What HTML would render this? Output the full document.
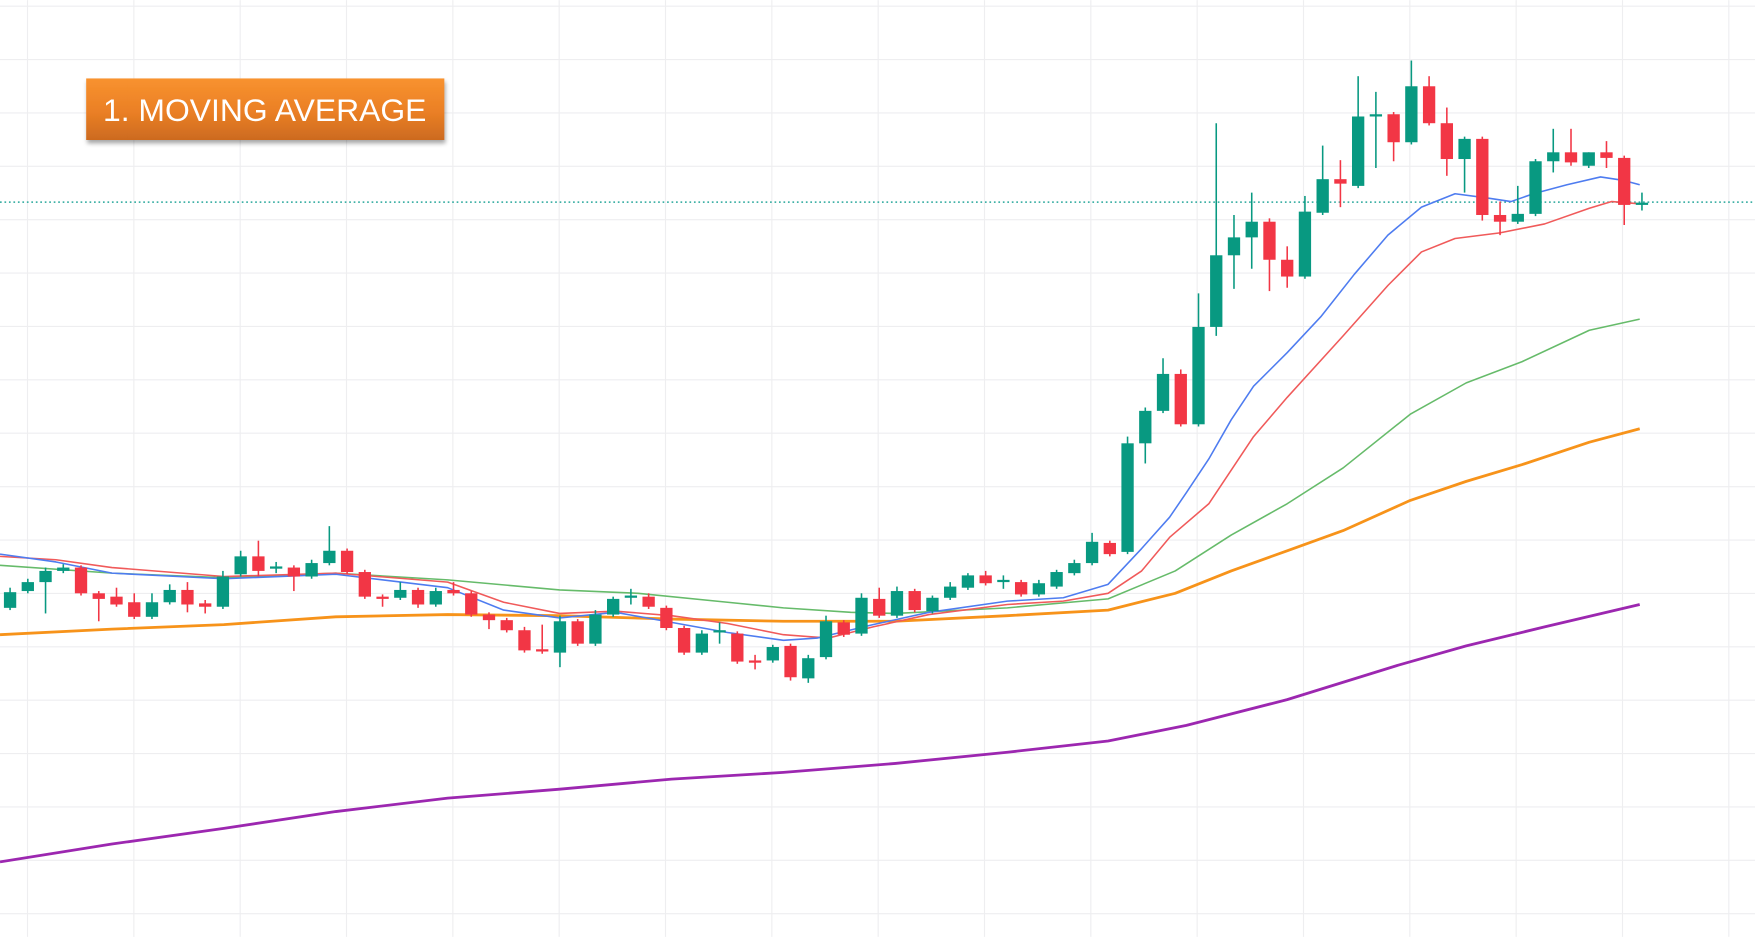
<!DOCTYPE html>
<html><head><meta charset="utf-8">
<style>
html,body{margin:0;padding:0;background:#fff;width:1755px;height:937px;overflow:hidden}
svg{display:block}
</style></head>
<body>
<svg id="c" width="1755" height="937" viewBox="0 0 1568 837" xmlns="http://www.w3.org/2000/svg">
<defs>
<linearGradient id="og" x1="0" y1="0" x2="0" y2="1">
<stop offset="0" stop-color="#f8922f"/><stop offset="0.55" stop-color="#ea7f25"/><stop offset="1" stop-color="#cc6a1f"/>
</linearGradient>
<filter id="sh" x="-10%" y="-20%" width="120%" height="150%"><feDropShadow dx="1" dy="3" stdDeviation="2" flood-color="#000" flood-opacity="0.35"/></filter>
</defs>
<g id="grid" stroke="#eeeef0" stroke-width="1"></g>
<line x1="0" y1="180.5" x2="1568" y2="180.5" stroke="#26a69a" stroke-width="1.3" stroke-dasharray="1.5 2.5"/>
<g id="ma" fill="none" stroke-linejoin="round"></g>
<g id="cd"></g>
<rect x="77" y="70" width="320" height="55" fill="url(#og)" filter="url(#sh)"/>
<text x="92" y="108" textLength="289" lengthAdjust="spacingAndGlyphs" font-family="Liberation Sans, sans-serif" font-size="28" fill="#fff">1. MOVING AVERAGE</text>
</svg>
<script>
var NS="http://www.w3.org/2000/svg";
function el(p,t,a){var e=document.createElementNS(NS,t);for(var k in a)e.setAttribute(k,a[k]);p.appendChild(e);return e;}
var g=document.getElementById('grid');
for(var x=24.6;x<1568;x+=95)el(g,'line',{x1:x,y1:0,x2:x,y2:837});
for(var y=5.4;y<837;y+=47.7)el(g,'line',{x1:0,y1:y,x2:1568,y2:y});
var ma=document.getElementById('ma');
function line(pts,c,w){el(ma,'polyline',{points:pts.map(function(p){return p.join(',')}).join(' '),stroke:c,'stroke-width':w});}
line([[0,567],[100,562],[200,558],[300,551],[400,549],[500,550],[600,553],[700,555],[800,555],[900,550],[990,545],[1050,530],[1100,510],[1150,492],[1200,474],[1260,447],[1310,430],[1360,415],[1420,395],[1465,383]],'#f7931a',2.5);
line([[0,770],[100,754],[200,740],[300,725],[400,713],[500,705],[600,696],[700,690],[800,682],[900,672],[990,662],[1060,648],[1150,625],[1250,594],[1310,577],[1380,560],[1465,540]],'#9c27b0',2.5);
line([[0,505],[100,512],[200,516],[300,512],[400,518],[500,527],[570,530],[650,538],[700,543],[760,547],[800,548],[900,543],[990,535],[1050,510],[1100,478],[1150,450],[1200,418],[1260,370],[1310,342],[1360,323],[1420,295],[1465,285]],'#66bb6a',1.4);
line([[0,497],[50,500],[100,507],[200,515],[300,512],[400,520],[450,538],[500,548],[550,546],[600,550],[650,557],[700,567],[740,570],[780,560],[830,549],[900,540],[950,537],[990,530],[1020,510],[1045,480],[1080,450],[1120,390],[1150,355],[1200,300],[1240,255],[1270,225],[1300,213],[1340,208],[1380,200],[1420,186],[1440,180],[1465,182]],'#f05a5a',1.4);
line([[0,495],[50,502],[100,512],[200,517],[300,513],[400,525],[450,545],[500,552],[550,547],[600,556],[650,565],[700,572],[730,570],[780,558],[830,547],[900,537],[950,534],[990,522],[1020,490],[1045,462],[1060,440],[1080,410],[1100,375],[1120,345],[1150,315],[1180,283],[1210,245],[1240,210],[1270,185],[1300,173],[1330,177],[1350,180],[1370,173],[1400,165],[1430,158],[1450,161],[1465,165]],'#4e7cf0',1.4);
var C=[
['g',529,543,525,545],['g',520,528,517,530],['g',510,520,507,548],['g',507,510,504,512],['r',507,530,505,532],
['r',530,535,528,555],['r',533,540,525,542],['r',538,551,530,553],['g',538,551,530,553],['g',527,538,522,540],
['r',527,540,520,547],['r',539,542,536,548],['g',515,542,510,544],['g',497,513,492,515],['r',497,510,483,515],
['g',506,508,502,512],['r',507,515,505,528],['g',503,515,500,517],['g',492,503,470,505],['r',492,511,490,513],
['r',511,533,509,535],['r',533,535,531,542],['g',527,534,520,536],['r',527,540,525,543],['g',528,540,525,542],
['r',527,530,520,532],['r',530,549,528,551],['r',549,554,547,562],['r',554,563,552,565],['r',563,581,560,583],
['r',580,582,558,584],['g',555,583,550,596],['r',555,575,553,577],['g',549,575,545,577],['g',535,549,533,551],
['g',532,534,526,540],['r',533,542,530,544],['r',543,561,541,563],['r',561,583,559,585],['g',566,583,563,585],
['g',563,565,556,575],['r',566,591,564,593],['r',590,592,585,598],['g',578,590,576,592],['r',577,605,575,608],
['g',588,606,585,610],['g',555,587,550,589],['r',556,567,554,569],['g',534,566,530,568],['r',535,550,525,552],
['g',528,550,524,552],['r',528,545,526,547],['g',534,546,532,548],['g',524,534,520,536],['g',514,525,512,527],
['r',514,521,510,523],['g',518,520,514,526],['r',520,531,518,533],['g',521,531,518,533],['g',511,524,509,526],
['g',503,512,500,514],['g',484,503,476,505],['r',485,495,483,497],['g',396,493,390,495],['g',367,396,364,414],
['g',334,367,320,369],['r',334,379,330,381],['g',292,379,262,381],['g',228,292,110,300],['g',212,228,192,258],
['g',198,212,172,240],['r',198,232,195,260],['r',232,247,220,257],['g',189,247,175,249],['g',160,190,130,192],
['r',160,164,143,185],['g',104,166,68,168],['g',102,104,82,150],['r',102,127,100,144],['g',77,127,54,129],
['r',77,110,68,112],['r',110,142,96,157],['g',124,142,122,172],['r',124,192,122,197],['r',192,198,180,210],
['g',191,198,166,200],['g',144,191,142,193],['g',136,144,115,154],['r',136,145,115,148],['g',136,148,136,150],
['r',136,141,126,150],['r',141,183,139,201],['g',181,183,172,188]];
var cd=document.getElementById('cd');
var sp=(1467-9)/(C.length-1);
C.forEach(function(c,i){
 var x=9+i*sp, col=c[0]=='g'?'#089981':'#f23645';
 el(cd,'line',{x1:x,y1:c[3],x2:x,y2:c[4],stroke:col,'stroke-width':1.4});
 var h=Math.max(c[2]-c[1],1.6);
 el(cd,'rect',{x:x-5.5,y:c[1],width:11,height:h,fill:col});
});
</script>
</body></html>
